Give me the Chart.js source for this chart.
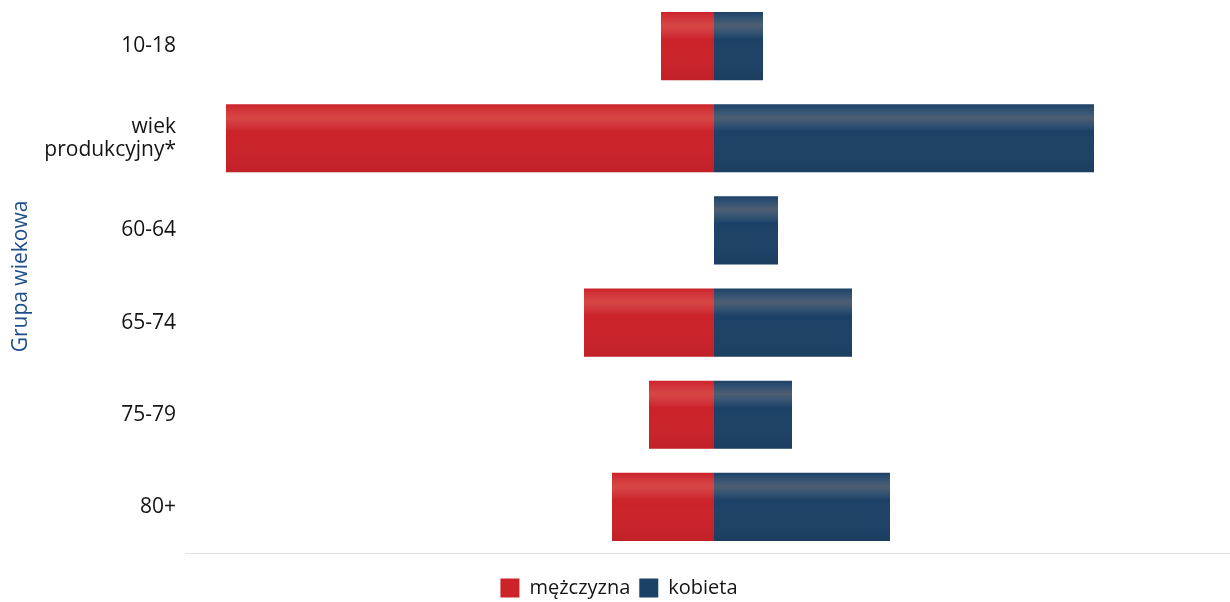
<!DOCTYPE html>
<html>
<head>
<meta charset="utf-8">
<script src="https://cdn.jsdelivr.net/npm/chart.js"></script>
<style>

body {
  margin: 0;
  background: #ffffff;
  font-family: "Open Sans", sans-serif;
}

.chart-container {
  width: 1230px;
  height: 602px;
}

</style>
</head>
<body>

<div class="chart-container"><canvas id="chart"></canvas></div>

<script>

// ==========================
// データ
// ==========================

const groups = ["10-18", ["wiek", "produkcyjny*"], "60-64", "65-74", "75-79", "80+"];

// mężczyzna: drawn to the left (negative)
const men = [-53, -488, 0, -130, -65, -102];

// kobieta: drawn to the right
const women = [49, 380, 64, 138, 78, 176];

const xMin = -529;
const xMax = 516;


// ==========================
// połysk słupków
// ==========================

const glossPlugin = {
  id: "gloss",
  afterDatasetsDraw(chart) {
    const ctx = chart.ctx;
    chart.data.datasets.forEach((ds, i) => {
      const meta = chart.getDatasetMeta(i);
      meta.data.forEach(bar => {
        const p = bar.getProps(["x", "y", "base", "height"], true);
        const left = Math.min(p.x, p.base);
        const w = Math.abs(p.x - p.base);
        if (w < 1) return;
        const top = p.y - p.height / 2;
        const g = ctx.createLinearGradient(0, top, 0, top + p.height);
        g.addColorStop(0, "rgba(255,255,255,0)");
        g.addColorStop(0.2, "rgba(255,200,160,0.22)");
        g.addColorStop(0.4, "rgba(255,255,255,0)");
        g.addColorStop(1, "rgba(0,0,0,0.06)");
        ctx.save();
        ctx.fillStyle = g;
        ctx.fillRect(left, top, w, p.height);
        ctx.restore();
      });
    });
  }
};


// ==========================
// wykres
// ==========================

new Chart(document.getElementById("chart"), {

  type: "bar",

  data: {
    labels: groups,
    datasets: [
      {
        label: "mężczyzna",
        data: men,
        backgroundColor: "#cc2229",
        borderWidth: 0
      },
      {
        label: "kobieta",
        data: women,
        backgroundColor: "#1c4166",
        borderWidth: 0
      }
    ]
  },

  options: {
    indexAxis: "y",
    responsive: true,
    maintainAspectRatio: false,
    animation: false,
    layout: {
      padding: { top: 0, right: 0, bottom: -6, left: 8 }
    },
    datasets: {
      bar: {
        categoryPercentage: 1,
        barPercentage: 0.74
      }
    },
    scales: {
      x: {
        stacked: true,
        min: xMin,
        max: xMax,
        afterFit: s => { s.height = 16; },
        ticks: { display: false },
        grid: { display: false, drawTicks: false },
        border: { display: true, color: "#dde2ea", dash: [3, 2], width: 1 }
      },
      y: {
        stacked: true,
        afterFit: s => {
          s.width = 177;
          s.paddingTop = 0;
          s.paddingBottom = 0;
        },
        grid: { display: false, drawTicks: false },
        border: { display: false },
        ticks: {
          padding: 9,
          color: "#141414",
          font: { family: "Open Sans", size: 21, lineHeight: 1.1 }
        },
        title: {
          display: true,
          text: "Grupa wiekowa",
          color: "#1f4e8c",
          padding: 0,
          font: { family: "Open Sans", size: 21 }
        }
      }
    },
    plugins: {
      legend: {
        position: "bottom",
        labels: {
          boxWidth: 19,
          boxHeight: 19,
          padding: 9,
          color: "#141414",
          font: { family: "Open Sans", size: 20 }
        }
      },
      tooltip: { enabled: false }
    }
  },

  plugins: [glossPlugin]

});

</script>

</body>
</html>
